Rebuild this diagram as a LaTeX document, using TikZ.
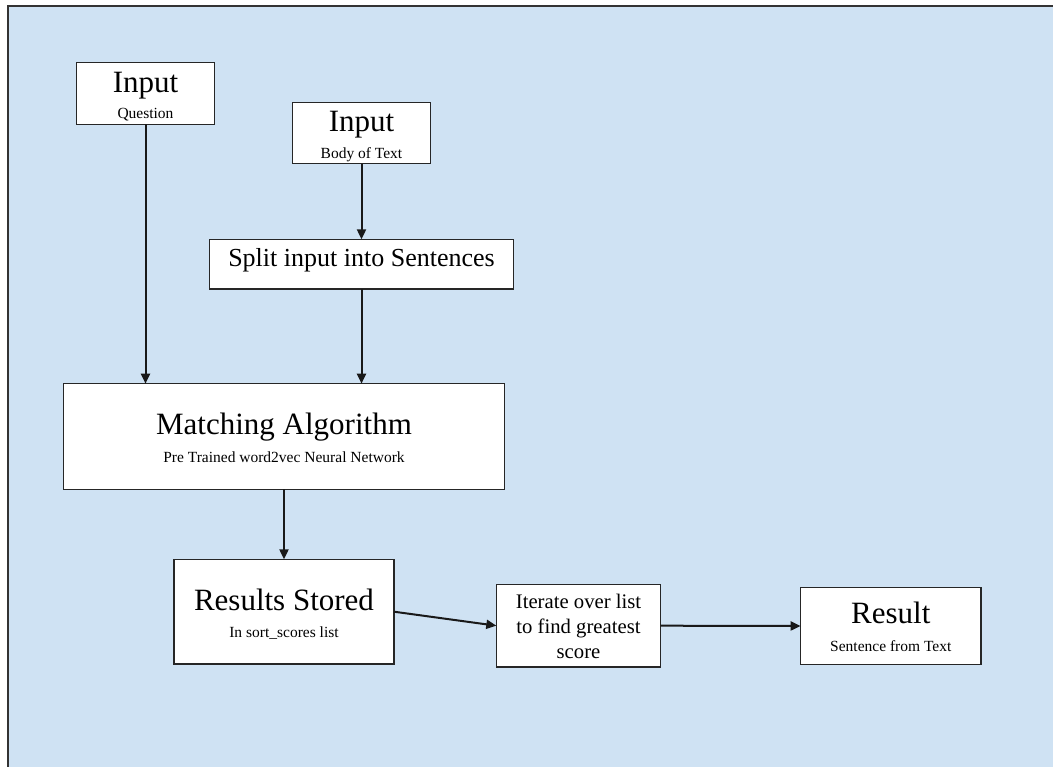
\documentclass[tikz,border=0pt]{standalone}
\usepackage{fontspec}
\setmainfont{Liberation Serif}
\usetikzlibrary{arrows.meta}
\definecolor{bgblue}{HTML}{CFE2F3}
\begin{document}
\begin{tikzpicture}[x=1pt,y=-1pt,
  box/.style={draw=black!85, line width=1.2pt, fill=white, inner sep=0pt, outer sep=0pt},
  big/.style={font=\fontsize{31}{37}\selectfont, anchor=base, inner sep=0pt},
  split/.style={font=\fontsize{26}{31}\selectfont, anchor=base, inner sep=0pt},
  small/.style={font=\fontsize{15.5}{18}\selectfont, anchor=base, inner sep=0pt},
  mid/.style={font=\fontsize{20.7}{25}\selectfont, anchor=base, inner sep=0pt},
  arr/.style={-{Triangle[length=10pt,width=9pt]}, line width=2pt, draw=black!90}]
\useasboundingbox (0,0) rectangle (1053,767);
\begin{scope}
  \clip (0,0) rectangle (1053,767);
  \fill[white] (0,0) rectangle (1053,767);
  \draw[line width=2pt, draw=black!80, fill=bgblue] (8,6.5) rectangle (1080,800);
\end{scope}

% boxes
\node[box, minimum width=138.4pt, minimum height=62pt]  (q)   at (145.5,93.3) {};
\node[box, minimum width=138.4pt, minimum height=61pt]  (b)   at (361.5,133.2) {};
\node[box, minimum width=303.6pt, minimum height=49.7pt] (s)  at (361.5,264.2) {};
\node[box, minimum width=441pt,   minimum height=105.6pt] (m) at (284,436.5) {};
\node[box, minimum width=220pt,   minimum height=104.7pt] (r) at (284,611.7) {};
\node[box, minimum width=164.4pt, minimum height=82.7pt] (it) at (578.5,625.7) {};
\node[box, minimum width=180.3pt, minimum height=76.6pt] (res) at (890.8,626) {};

% texts
\node[big]   (qt)  at (145.5,92.7) {Input};
\node[small] (qs)  at (145.5,119) {Question};
\node[big]   (bt)  at (361.5,131.7) {Input};
\node[small] (bs)  at (361.5,159) {Body of Text};
\node[split] (st)  at (361.5,266.7) {Split input into Sentences};
\node[big]   (mt)  at (284,434.3) {Matching Algorithm};
\node[small] (ms)  at (284,462.7) {Pre Trained word2vec Neural Network};
\node[big]   (rt)  at (284,610) {Results Stored};
\node[small] (rs)  at (284,637.3) {In sort\_scores list};
\node[mid]   (it1) at (578.5,608.3) {Iterate over list};
\node[mid]   (it2) at (578.5,633.3) {to find greatest};
\node[mid]   (it3) at (578.5,658.3) {score};
\node[big]   (rest) at (890.8,623.3) {Result};
\node[small] (ress) at (890.8,651.7) {Sentence from Text};

% connectors
\draw[arr] (q.south) -- (q.south |- m.north);
\draw[arr] (b.south) -- (s.north);
\draw[arr] (s.south) -- (s.south |- m.north);
\draw[arr] (m.south) -- (r.north);
\draw[arr] (r.east) -- (it.west);
\draw[arr] (it.east) -- (res.west);
\end{tikzpicture}
\end{document}
